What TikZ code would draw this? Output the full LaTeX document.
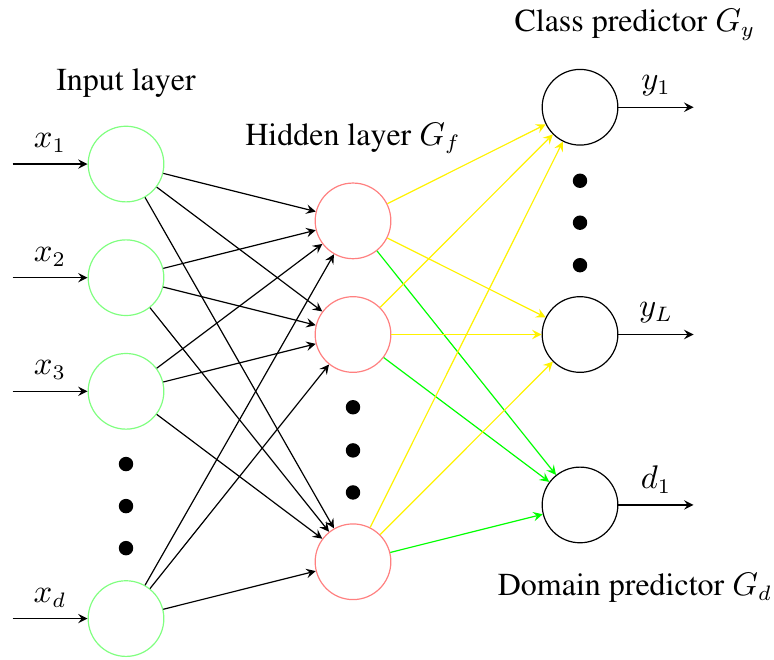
\documentclass[tikz,border=0pt,11pt]{standalone}
\usepackage[T1]{fontenc}
\usepackage{times}
\usepackage{tikz}
\usetikzlibrary{arrows,positioning,calc}

\begin{document}
\begin{tikzpicture}[x=2.67cm,y=-1.3365cm,
    font=\fontsize{10.7pt}{13pt}\selectfont,
    neuron/.style={circle,draw,minimum size=0.89cm,inner sep=0pt},
    input neuron/.style={neuron,draw=green!50},
    hidden neuron/.style={neuron,draw=red!50},
    output neuron/.style={neuron,draw=black},
    conn/.style={-stealth},
    bigdot/.style={circle,fill=black,inner sep=0pt,minimum size=0.17cm}]
  \useasboundingbox (-0.5551,-1.4437) rectangle (2.8546,4.3574);
  % input layer
  \foreach \row/\name/\lab in {0/I1/x_1, 1/I2/x_2, 2/I3/x_3, 4/Id/x_d}{
    \node[input neuron] (\name) at (0,\row) {};
    \coordinate (\name-in) at (-0.5,\row);
    \draw[conn] (\name-in) -- node[above] {$\lab$} (\name);
  }
  \foreach \row/\name in {2.64/a, 3.01/b, 3.38/c}
    \node[bigdot] (I-dot-\name) at (0,\row) {};
  % hidden layer
  \foreach \row/\name in {0.5/H1, 1.5/H2, 3.5/H3}
    \node[hidden neuron] (\name) at (1,\row) {};
  \foreach \row/\name in {2.14/a, 2.52/b, 2.89/c}
    \node[bigdot] (H-dot-\name) at (1,\row) {};
  % class and domain predictors
  \foreach \row/\name/\lab in {-0.5/Y1/y_1, 1.5/YL/y_L, 3/D1/d_1}{
    \node[output neuron] (\name) at (2,\row) {};
    \coordinate (\name-out) at (2.5,\row);
    \draw[conn] (\name) -- node[above] {$\lab$} (\name-out);
  }
  \foreach \row/\name in {0.147/a, 0.516/b, 0.89/c}
    \node[bigdot] (O-dot-\name) at (2,\row) {};
  % connections
  \foreach \src in {I1,I2,I3,Id}
    \foreach \dst in {H1,H2,H3}
      \draw[conn] (\src) -- (\dst);
  \foreach \src in {H1,H2,H3}{
    \draw[conn,yellow] (\src) -- (Y1);
    \draw[conn,yellow] (\src) -- (YL);
    \draw[conn,green] (\src) -- (D1);
  }
  % layer titles
  \node[anchor=base] (in-title) at (0,-0.651) {Input layer};
  \node[anchor=base] (hid-title) at (1,-0.167) {Hidden layer $G_f$};
  \node[anchor=base] (cls-title) at (2.242,-1.165) {Class predictor $G_y$};
  \node[anchor=base] (dom-title) at (2.242,3.794) {Domain predictor $G_d$};
\end{tikzpicture}
\end{document}
